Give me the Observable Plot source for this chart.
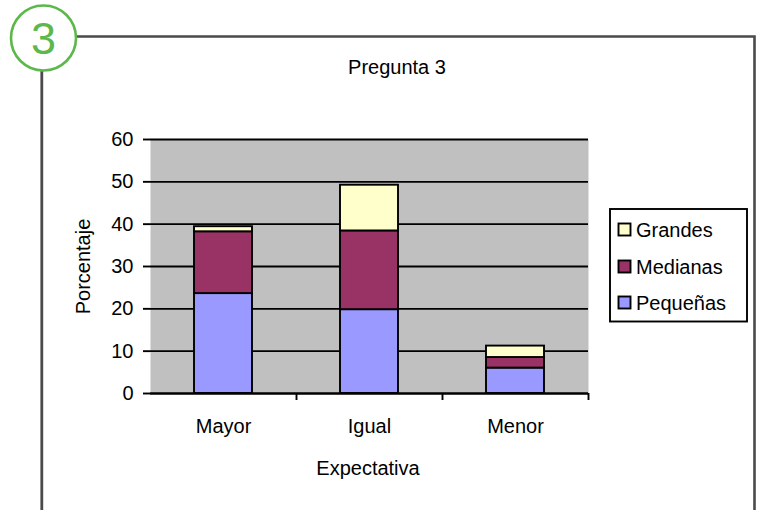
<!DOCTYPE html>
<html>
<head>
<meta charset="utf-8">
<script src="https://cdn.jsdelivr.net/npm/d3@7"></script>
<script src="https://cdn.jsdelivr.net/npm/@observablehq/plot@0.6"></script>
<style>
  html, body { margin: 0; padding: 0; background: #fff; }
  #chart { position: relative; width: 761px; height: 510px; }
</style>
</head>
<body>
<div id="chart"></div>
<script>
const categories = ["Mayor", "Igual", "Menor"];
const series = ["Pequeñas", "Medianas", "Grandes"];
const pequenas = [23.6, 19.8, 6.0];
const medianas = [14.6, 18.6, 2.5];
const grandes = [1.2, 10.8, 2.7];
const seriesColors = ["#9999ff", "#993366", "#ffffcc"];
const yTicks = [0, 10, 20, 30, 40, 50, 60];
const title = "Pregunta 3";
const xLabel = "Expectativa";
const yLabel = "Porcentaje";
const badge = "3";

const values = [pequenas, medianas, grandes];
const data = [];
series.forEach((s, j) => categories.forEach((c, i) => data.push({cat: c, serie: s, value: values[j][i]})));

const W = 761, H = 510;
const mL = 150, mR = 173, mT = 139, mB = 117;
const plotW = W - mL - mR;
const step = plotW / categories.length;
const font = "'Liberation Sans', Arial, sans-serif";
const lw = 1.9;

const plot = Plot.plot({
  width: W,
  height: H,
  marginLeft: mL,
  marginRight: mR,
  marginTop: mT,
  marginBottom: mB,
  style: {fontFamily: font, fontSize: "20px", color: "#000", background: "transparent", overflow: "visible"},
  x: {domain: categories, paddingInner: 0.605, paddingOuter: 0.3025, label: null},
  y: {domain: [0, 60], label: null},
  color: {domain: series, range: seriesColors},
  marks: [
    Plot.frame({fill: "#c0c0c0", stroke: null}),
    Plot.gridY(yTicks, {stroke: "#000", strokeOpacity: 1, strokeWidth: lw}),
    Plot.barY(data, Plot.stackY({order: series, x: "cat", y: "value", fill: "serie", stroke: "#000", strokeWidth: lw})),
    Plot.axisY(yTicks, {tickSize: 7, tickPadding: 10, stroke: "#000", strokeWidth: lw, fontSize: 20, label: null}),
    Plot.axisX({tickSize: 0, tickPadding: 25, fontSize: 20, label: null}),
    Plot.axisX({tickSize: 7, dx: step / 2, text: null, stroke: "#000", strokeWidth: lw, label: null}),
    Plot.ruleX([0], {frameAnchor: "left", y1: 0, y2: 60, stroke: "#000", strokeWidth: lw, insetBottom: -7}),
    Plot.ruleY([0], {stroke: "#000", strokeWidth: lw})
  ]
});

const svg = d3.select(plot);
svg.style("position", "absolute").style("left", "0px").style("top", "0px");

// Outer frame
const frameColor = "#4a4a4a";
svg.insert("path", ":first-child")
  .attr("d", `M76,36.5 H754.5 V${H}`)
  .attr("fill", "none").attr("stroke", frameColor).attr("stroke-width", 2.6);
svg.insert("path", ":first-child")
  .attr("d", `M41.8,70 V${H}`)
  .attr("fill", "none").attr("stroke", frameColor).attr("stroke-width", 2.8);

// Badge
svg.append("circle").attr("cx", 43.5).attr("cy", 38).attr("r", 32.5)
  .attr("fill", "#fff").attr("stroke", "#5cb84a").attr("stroke-width", 2.6);
svg.append("text").attr("x", 43.5).attr("y", 54).attr("text-anchor", "middle")
  .attr("font-family", font).attr("font-size", 45).attr("fill", "#5cb84a").text(badge);

// Title
svg.append("text").attr("x", 397).attr("y", 74).attr("text-anchor", "middle")
  .attr("font-family", font).attr("font-size", 20).attr("fill", "#000").text(title);

// Axis titles
svg.append("text").attr("x", 368).attr("y", 475).attr("text-anchor", "middle")
  .attr("font-family", font).attr("font-size", 20).attr("fill", "#000").text(xLabel);
svg.append("text").attr("transform", "translate(89.5,266.5) rotate(-90)").attr("text-anchor", "middle")
  .attr("font-family", font).attr("font-size", 20).attr("fill", "#000").text(yLabel);

// Legend
const lg = svg.append("g");
lg.append("rect").attr("x", 610).attr("y", 209).attr("width", 137).attr("height", 112.5)
  .attr("fill", "#fff").attr("stroke", "#000").attr("stroke-width", lw);
const legendOrder = series.slice().reverse();
const rowY = [229.5, 266.5, 302.5];
legendOrder.forEach((s, k) => {
  const ci = series.indexOf(s);
  lg.append("rect").attr("x", 618.5).attr("y", rowY[k] - 6).attr("width", 12).attr("height", 12)
    .attr("fill", seriesColors[ci]).attr("stroke", "#000").attr("stroke-width", lw);
  lg.append("text").attr("x", 636).attr("y", rowY[k] + 7).attr("text-anchor", "start")
    .attr("font-family", font).attr("font-size", 20).attr("fill", "#000").text(s);
});

document.getElementById("chart").appendChild(plot);
</script>
</body>
</html>
